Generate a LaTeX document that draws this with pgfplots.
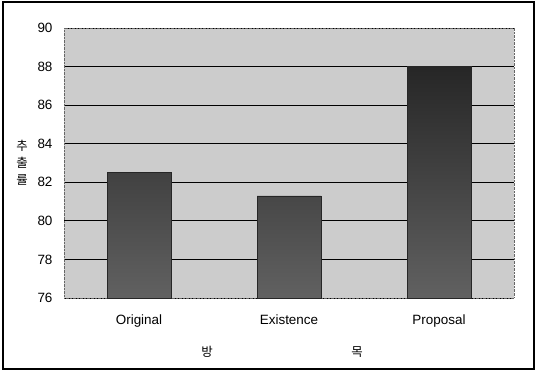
\documentclass[border=0pt]{standalone}
\usepackage{pgfplots}
\pgfplotsset{compat=1.18}
\usepackage{fontspec}
\setmainfont{Liberation Sans}
\newfontfamily\kr{Noto Sans CJK KR}
\begin{document}
\begin{tikzpicture}
\path[use as bounding box] (0,0) rectangle (536bp,370bp);
\draw[line width=1.2bp] (3bp,1bp) rectangle (534bp,368bp);
\draw[line width=1.8bp] (3bp,1bp) -- (3bp,368bp);
\begin{axis}[
  at={(64bp,72bp)}, anchor=south west,
  scale only axis, width=450bp, height=270bp,
  ymin=76, ymax=90, ytick={76,78,...,90},
  xmin=-0.5, xmax=2.5, xtick={0,1,2},
  xticklabels={Original,Existence,Proposal},
  ymajorgrids, major grid style={black, line width=0.8bp},
  axis line style={black!60, densely dotted},
  tick style={draw=none},
  axis background/.style={fill=black!20},
  ybar, bar width=64bp,
  tick label style={font=\fontsize{13.5}{15}\selectfont},
  /pgf/number format/assume math mode=true,
  yticklabel style={xshift=-8bp},
  xticklabel style={yshift=-9bp},
  clip=false,
]
\addplot[draw=black!85, top color=black!85, bottom color=black!62] coordinates {(0,82.5) (1,81.3) (2,88.0)};
\end{axis}
\node[font=\kr\fontsize{12.5}{17}\selectfont, align=center, inner sep=0] at (22bp,207bp) {추\\출\\률};
\node[font=\kr\fontsize{12.5}{14}\selectfont, inner sep=0] at (207bp,18bp) {방};
\node[font=\kr\fontsize{12.5}{14}\selectfont, inner sep=0] at (357bp,18bp) {목};
\end{tikzpicture}
\end{document}
